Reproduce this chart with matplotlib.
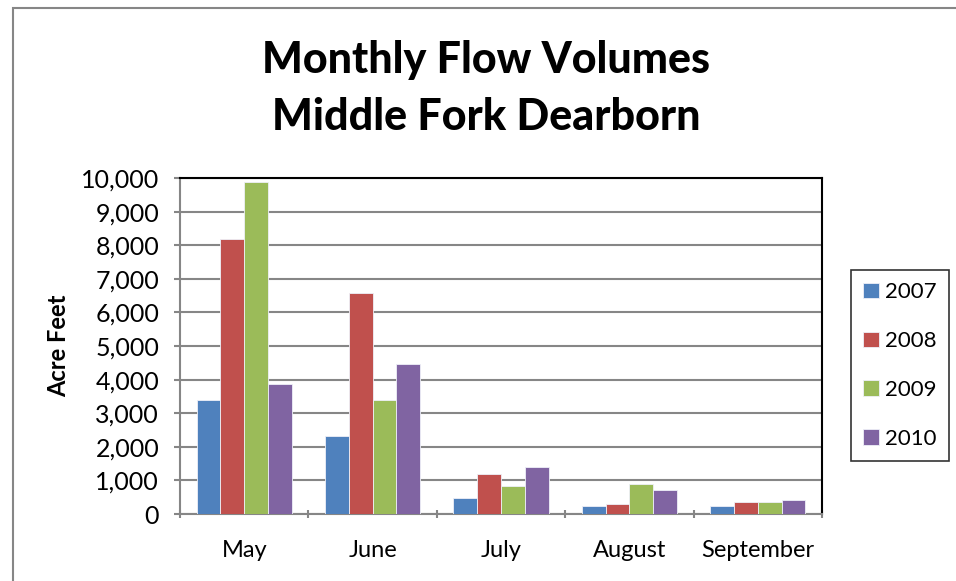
import matplotlib
matplotlib.use("Agg")
import matplotlib.pyplot as plt
import matplotlib.patches as patches
import matplotlib.ticker as ticker
import numpy as np

months = ["May", "June", "July", "August", "September"]
years = ["2007", "2008", "2009", "2010"]
flow2007 = [3390, 2320, 470, 230, 230]
flow2008 = [8180, 6570, 1180, 300, 350]
flow2009 = [9890, 3390, 820, 880, 350]
flow2010 = [3860, 4460, 1410, 710, 420]
yTicks = [0, 1000, 2000, 3000, 4000, 5000, 6000, 7000, 8000, 9000, 10000]

COLORS = ["#4F81BD", "#C0504D", "#9BBB59", "#8064A2"]
GRID = "#868686"

plt.rcParams["font.family"] = ["Lato", "DejaVu Sans"]


def main():
    fig = plt.figure(figsize=(9.56, 5.81), dpi=100)
    ax = fig.add_axes([180 / 956, 1 - 514 / 581, 642 / 956, 336 / 581])

    x = np.arange(len(months))
    series = [flow2007, flow2008, flow2009, flow2010]
    barWidth = 0.185
    for i, vals in enumerate(series):
        offset = (i - 1.5) * barWidth
        ax.bar(x + offset, vals, width=barWidth, color=COLORS[i],
               edgecolor="#EEF0F8", linewidth=0.6, label=years[i], zorder=3)

    ax.set_xlim(-0.5, len(months) - 0.5)
    ax.set_ylim(0, 10000)
    ax.set_yticks(yTicks)
    ax.yaxis.set_major_formatter(ticker.FuncFormatter(lambda v, p: f"{int(v):,}"))
    ax.grid(axis="y", color=GRID, linewidth=1.5, zorder=0)

    ax.set_xticks(x)
    ax.set_xticklabels(months)
    ax.set_xticks(np.arange(-0.5, len(months)), minor=True)
    ax.tick_params(axis="x", which="major", length=0, pad=19, labelsize=17)
    ax.tick_params(axis="x", which="minor", length=6, width=1.5, color=GRID, direction="inout")
    ax.tick_params(axis="y", length=4, width=1.5, color=GRID, labelsize=18, pad=11)

    for side in ["left", "bottom"]:
        ax.spines[side].set_color(GRID)
        ax.spines[side].set_linewidth(1.5)
    for side in ["top", "right"]:
        ax.spines[side].set_color("black")
        ax.spines[side].set_linewidth(1.5)

    ax.set_ylabel("Acre Feet", fontsize=17, fontweight="bold", labelpad=8)

    fig.text(486 / 956, 1 - 60 / 581, "Monthly Flow Volumes", ha="center", va="center",
             fontsize=31, fontweight="black")
    fig.text(486 / 956, 1 - 117 / 581, "Middle Fork Dearborn", ha="center", va="center",
             fontsize=31, fontweight="black")

    leg = fig.legend(loc="upper left", bbox_to_anchor=(851 / 956, 1 - 270 / 581),
                     fontsize=16, frameon=True, fancybox=False, handlelength=0.7,
                     handleheight=0.7, handletextpad=0.3, labelspacing=1.3,
                     borderpad=0.55, borderaxespad=0)
    leg.get_frame().set_edgecolor("black")
    leg.get_frame().set_linewidth(1.2)

    border = patches.Rectangle((13 / 956, -0.1), 1.2, 1 - 8 / 581 + 0.1,
                               transform=fig.transFigure, fill=False,
                               edgecolor=GRID, linewidth=1.5, clip_on=False)
    fig.patches.append(border)

    fig.savefig("out.png", dpi=100)


if __name__ == "__main__":
    main()
